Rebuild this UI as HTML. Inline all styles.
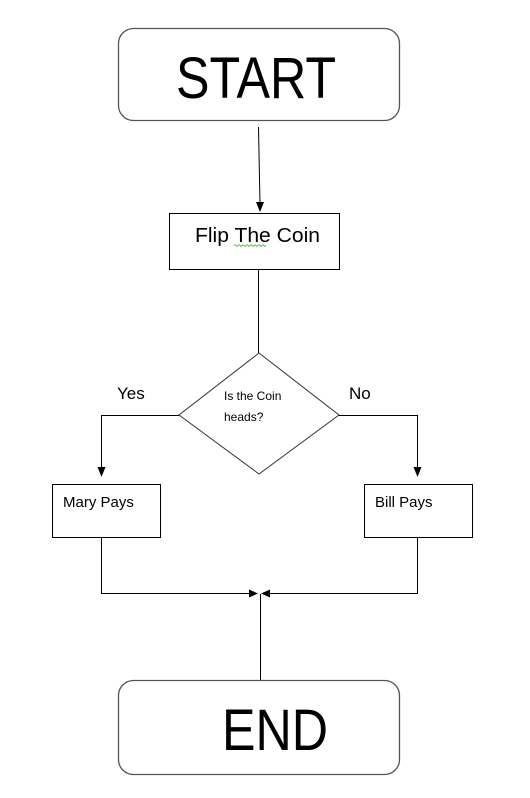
<!DOCTYPE html>
<html><head><meta charset="utf-8"><style>
html,body{margin:0;padding:0;background:#fff;}
svg{display:block;}
text{font-family:"Liberation Sans",sans-serif;fill:#000;}
</style></head><body>
<svg width="530" height="798" viewBox="0 0 530 798" xmlns="http://www.w3.org/2000/svg">
<rect x="118.5" y="28.5" width="281" height="92" rx="15" fill="#fff" stroke="#555" stroke-width="1.3"/>
<text x="256" y="98" font-size="58" text-anchor="middle" textLength="160" lengthAdjust="spacingAndGlyphs">START</text>
<line x1="258.5" y1="127" x2="260" y2="204" stroke="#000" stroke-width="1"/>
<polygon points="256,202 264,202 260,212" fill="#000"/>
<rect x="169.5" y="213.5" width="170" height="56" fill="#fff" stroke="#000" stroke-width="1"/>
<text x="195" y="242" font-size="20" textLength="125" lengthAdjust="spacingAndGlyphs">Flip The Coin</text>
<path d="M234 245.5 q1 -1.5 2 0 t2 0 t2 0 t2 0 t2 0 t2 0 t2 0 t2 0 t2 0 t2 0 t2 0 t2 0 t2 0 t2 0 t2 0 t2 0" fill="none" stroke="#3a3" stroke-width="0.8"/>
<line x1="258.5" y1="270" x2="258.5" y2="353" stroke="#000" stroke-width="1"/>
<polygon points="259,353 339,415 259,474 179,415" fill="#fff" stroke="#333" stroke-width="1"/>
<text x="224" y="400" font-size="12">Is the Coin</text>
<text x="224" y="421" font-size="12">heads?</text>
<text x="117" y="399" font-size="17">Yes</text>
<text x="349" y="399" font-size="17">No</text>
<polyline points="179,415.5 101.5,415.5 101.5,468" fill="none" stroke="#000" stroke-width="1"/>
<polygon points="97.5,467 105.5,467 101.5,477" fill="#000"/>
<polyline points="339,415.5 417.5,415.5 417.5,468" fill="none" stroke="#000" stroke-width="1"/>
<polygon points="413.5,467 421.5,467 417.5,477" fill="#000"/>
<rect x="52.5" y="484.5" width="108" height="53" fill="#fff" stroke="#000" stroke-width="1"/>
<text x="63" y="507" font-size="15">Mary Pays</text>
<rect x="364.5" y="484.5" width="108" height="53" fill="#fff" stroke="#000" stroke-width="1"/>
<text x="375" y="507" font-size="15">Bill Pays</text>
<polyline points="101.5,538 101.5,593.5 250,593.5" fill="none" stroke="#000" stroke-width="1"/>
<polygon points="249,589.5 249,597.5 258,593.5" fill="#000"/>
<polyline points="417.5,538 417.5,593.5 268,593.5" fill="none" stroke="#000" stroke-width="1"/>
<polygon points="270,589.5 270,597.5 261,593.5" fill="#000"/>
<line x1="260.5" y1="594" x2="260.5" y2="680" stroke="#000" stroke-width="1"/>
<rect x="118.5" y="680.5" width="281" height="94" rx="15" fill="#fff" stroke="#555" stroke-width="1.3"/>
<text x="275" y="750" font-size="58" text-anchor="middle" textLength="106" lengthAdjust="spacingAndGlyphs">END</text>
</svg>
</body></html>
